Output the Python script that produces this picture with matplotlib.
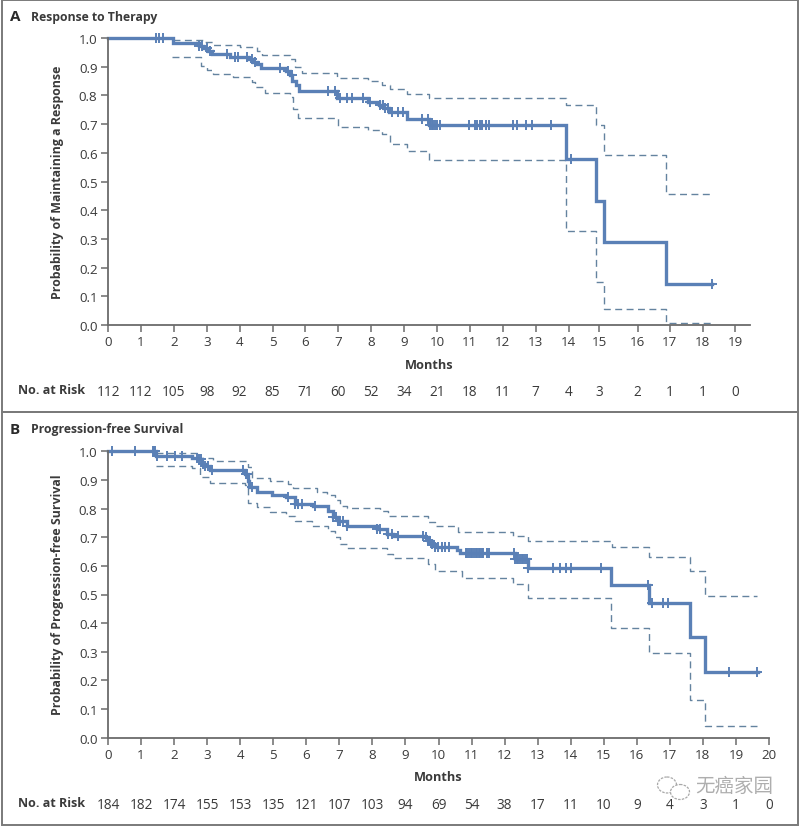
"""Kaplan-Meier curves for response to therapy and progression-free survival."""

from __future__ import annotations

import matplotlib

matplotlib.use("Agg")
import matplotlib.pyplot as plt
import numpy as np
from matplotlib.patches import Ellipse, Rectangle

plt.rcParams["font.family"] = ["Open Sans", "Noto Sans CJK SC", "DejaVu Sans"]

WIDTH, HEIGHT = 800, 828
BLUE = "#5a80b6"
DASH = "#64839f"
AXIS = "#6b6b6b"
TEXT = "#3a3a3a"

# Panel A
A_TIMES = [0, 1.98, 2.76, 2.89, 3.04, 3.16, 3.7, 4.25, 4.4, 4.52, 4.66, 5.41, 5.53, 5.6, 5.7, 5.82,
           6.95, 7.9, 8.24, 8.39, 8.55, 9.08, 9.76, 13.91, 14.83, 15.09, 16.95, 18.35]
A_SURV = [1.0, 0.982, 0.973, 0.964, 0.955, 0.945, 0.935, 0.927, 0.918, 0.909, 0.895, 0.885, 0.87, 0.85,
          0.835, 0.815, 0.79, 0.777, 0.767, 0.755, 0.742, 0.717, 0.697, 0.58, 0.433, 0.29, 0.143, 0.143]
A_UP_TIMES = [1.99, 2.9, 3.2, 4.01, 4.52, 4.67, 5.53, 5.68, 5.89, 6.97, 7.91, 8.32, 8.57, 9.08, 9.76,
              13.91, 14.83, 15.09, 16.95, 18.32]
A_UP = [0.994, 0.985, 0.976, 0.967, 0.953, 0.94, 0.927, 0.898, 0.878, 0.859, 0.851, 0.836, 0.822, 0.806,
        0.79, 0.766, 0.697, 0.592, 0.456, 0.456]
A_LOW_TIMES = [1.96, 2.83, 3.0, 3.2, 3.81, 4.37, 4.47, 4.77, 5.53, 5.63, 5.76, 7.0, 7.91, 8.32, 8.57,
               9.08, 9.76, 13.91, 14.83, 15.09, 16.95, 18.32]
A_LOW = [0.933, 0.904, 0.89, 0.876, 0.865, 0.848, 0.828, 0.81, 0.793, 0.752, 0.72, 0.691, 0.68, 0.665,
         0.632, 0.605, 0.576, 0.328, 0.15, 0.055, 0.007, 0.007]
A_CENSORED = [1.46, 1.55, 1.68, 2.77, 2.85, 3.0, 3.1, 3.61, 3.86, 3.96, 4.21, 4.37, 4.47, 5.23, 5.48, 5.58,
              6.7, 6.9, 7.05, 7.25, 7.41, 7.76, 7.96, 8.27, 8.37, 8.42, 8.52, 8.62, 8.82, 8.98, 9.53,
              9.74, 9.79, 9.84, 9.89, 9.94, 9.99, 10.09, 10.97, 11.15, 11.23, 11.31, 11.38, 11.49,
              11.59, 12.3, 12.42, 12.69, 12.89, 13.48, 14.06, 18.35]
A_TICKS = [0, 1, 2, 3, 4, 5, 6, 7, 8, 9, 10, 11, 12, 13, 14, 14.93, 16.1, 17.08, 18.07, 19.06]
A_TICK_LABELS = [str(month) for month in range(20)]
A_RISK = [112, 112, 105, 98, 92, 85, 71, 60, 52, 34, 21, 18, 11, 7, 4, 3, 2, 1, 1, 0]

# Panel B
B_TIMES = [0, 1.44, 2.53, 2.73, 2.83, 2.93, 3.09, 4.15, 4.25, 4.27, 4.5, 4.95, 5.4, 5.66, 6.21, 6.67, 6.82,
           6.97, 7.22, 8.13, 8.43, 8.63, 9.59, 9.69, 9.79, 9.89, 10.55, 10.65, 12.3, 12.72, 15.22, 16.38,
           17.61, 18.06, 19.68]
B_SURV = [1.0, 0.983, 0.977, 0.973, 0.956, 0.95, 0.935, 0.921, 0.898, 0.875, 0.859, 0.848, 0.84, 0.816,
          0.808, 0.793, 0.77, 0.758, 0.738, 0.729, 0.712, 0.706, 0.7, 0.688, 0.676, 0.665, 0.657, 0.644,
          0.624, 0.594, 0.533, 0.47, 0.352, 0.228, 0.228]
B_UP_TIMES = [1.44, 2.68, 3.19, 4.25, 4.35, 4.9, 5.46, 5.61, 6.31, 6.62, 6.87, 7.02, 7.22, 8.23, 8.48,
              9.69, 9.89, 10.6, 12.26, 12.72, 15.24, 16.38, 17.61, 18.06, 19.63]
B_UP = [0.995, 0.977, 0.965, 0.944, 0.907, 0.898, 0.886, 0.871, 0.857, 0.848, 0.831, 0.81, 0.801, 0.793,
        0.775, 0.754, 0.738, 0.719, 0.705, 0.688, 0.665, 0.63, 0.582, 0.496, 0.496]
B_LOW_TIMES = [1.44, 2.53, 2.78, 3.09, 4.15, 4.25, 4.5, 4.9, 5.4, 5.66, 6.16, 6.67, 6.87, 7.02, 7.22, 8.43,
               8.63, 9.69, 9.89, 10.7, 12.26, 12.72, 15.22, 16.38, 17.61, 18.06, 19.63]
B_LOW = [0.95, 0.941, 0.909, 0.889, 0.883, 0.819, 0.805, 0.787, 0.773, 0.755, 0.74, 0.723, 0.7, 0.677,
         0.662, 0.642, 0.629, 0.607, 0.581, 0.558, 0.537, 0.487, 0.382, 0.297, 0.13, 0.04, 0.04]
B_CENSORED = [0.13, 0.82, 1.35, 1.39, 1.43, 1.47, 1.78, 2.03, 2.23, 2.68, 2.75, 2.81, 2.88, 2.93, 3.04, 3.14,
              4.09, 4.18, 4.22, 4.35, 5.46, 5.66, 5.76, 5.86, 6.26, 6.82, 6.9, 6.97, 7.02, 7.12, 7.22,
              8.13, 8.23, 8.48, 8.58, 8.78, 9.54, 9.62, 9.69, 9.74, 9.81, 9.89, 9.99, 10.1, 10.2, 10.33,
              10.82, 10.87, 10.92, 10.97, 11.02, 11.07, 11.12, 11.17, 11.22, 11.27, 11.32, 11.35, 11.48,
              11.54, 12.27, 12.32, 12.37, 12.42, 12.47, 12.52, 12.57, 12.62, 12.69, 12.72, 13.47, 13.68,
              13.85, 14.01, 14.91, 16.35, 16.47, 16.78, 16.93, 18.79, 19.65]
B_TICKS = list(range(21))
B_TICK_LABELS = [str(month) for month in B_TICKS]
B_RISK = [184, 182, 174, 155, 153, 135, 121, 107, 103, 94, 69, 54, 38, 17, 11, 10, 9, 4, 3, 1, 0]

Y_TICKS = [0.0, 0.1, 0.2, 0.3, 0.4, 0.5, 0.6, 0.7, 0.8, 0.9, 1.0]


def _pixel_axes(figure, left, top, right, bottom):
    return figure.add_axes(
        [left / WIDTH, 1 - bottom / HEIGHT, (right - left) / WIDTH, (bottom - top) / HEIGHT]
    )


def _fig_text(figure, x, y, text, **kwargs):
    kwargs.setdefault("color", TEXT)
    kwargs.setdefault("va", "center")
    figure.text(x / WIDTH, 1 - y / HEIGHT, text, **kwargs)


def _draw_panel(axis, times, surv, up_times, up, low_times, low, censored, ticks, tick_labels, risk, xmax):
    axis.set_xlim(0, xmax)
    axis.set_ylim(0, 1)
    for xs, ys in ((up_times, up), (low_times, low)):
        axis.step(xs, ys, where="post", color=DASH, linewidth=1.0, dashes=(5, 3.2), clip_on=False)
    axis.step(times, surv, where="post", color=BLUE, linewidth=2.4, solid_joinstyle="miter", clip_on=False)

    index = np.searchsorted(times, censored, side="right") - 1
    axis.plot(
        censored,
        np.asarray(surv)[index],
        linestyle="none",
        marker="+",
        markersize=6.5,
        markeredgewidth=1.4,
        color=BLUE,
        clip_on=False,
    )

    for side in ("top", "right"):
        axis.spines[side].set_visible(False)
    for side in ("left", "bottom"):
        axis.spines[side].set_color(AXIS)
        axis.spines[side].set_linewidth(1.3)
    axis.set_xticks(ticks, tick_labels)
    axis.set_yticks(Y_TICKS, [f"{value:.1f}" for value in Y_TICKS])
    axis.tick_params(axis="both", color=AXIS, width=1.1, length=5, labelsize=9.6, labelcolor=TEXT, pad=2.5)
    axis.patch.set_alpha(0)

    # at-risk row sits under the same ticks as the month labels
    transform = axis.get_xaxis_transform()
    for tick, count in zip(ticks, risk):
        axis.text(tick, -0.232, str(count), transform=transform, ha="center", va="center",
                  fontsize=9.8, color=TEXT)


def _draw_watermark(figure):
    overlay = figure.add_axes([0, 0, 1, 1], facecolor="none")
    overlay.set_xlim(0, WIDTH)
    overlay.set_ylim(HEIGHT, 0)
    overlay.axis("off")
    overlay.add_patch(Ellipse((667, 786), 19, 16, fill=False, ec="#a8a8a8", lw=0.9, ls=(0, (2, 1))))
    overlay.add_patch(Ellipse((680, 793), 19, 15, fc="white", ec="#a8a8a8", lw=0.9, ls=(0, (2, 1))))
    return overlay


def main() -> None:
    figure = plt.figure(figsize=(WIDTH / 100, HEIGHT / 100), dpi=100, facecolor="white")

    for top, bottom in ((1, 413), (413, 826)):
        figure.add_artist(
            Rectangle((2 / WIDTH, 1 - bottom / HEIGHT), 796 / WIDTH, (bottom - top) / HEIGHT,
                      transform=figure.transFigure, fill=False, ec="#7a7a7a", lw=1.4)
        )

    axis_a = _pixel_axes(figure, 108, 39, 750, 326)
    _draw_panel(axis_a, A_TIMES, A_SURV, A_UP_TIMES, A_UP, A_LOW_TIMES, A_LOW, A_CENSORED,
                A_TICKS, A_TICK_LABELS, A_RISK, 642 / 32.9)

    axis_b = _pixel_axes(figure, 108, 452.3, 769, 738.7)
    _draw_panel(axis_b, B_TIMES, B_SURV, B_UP_TIMES, B_UP, B_LOW_TIMES, B_LOW, B_CENSORED,
                B_TICKS, B_TICK_LABELS, B_RISK, 20)

    for letter, title, y in (("A", "Response to Therapy", 17), ("B", "Progression-free Survival", 430)):
        _fig_text(figure, 10, y, letter, fontsize=11, fontweight="bold", color="#2a2a2a")
        _fig_text(figure, 31, y, title, fontsize=8.8, fontweight="bold")

    for label, y in (("Probability of Maintaining a Response", 182), ("Probability of Progression-free Survival", 595)):
        _fig_text(figure, 58, y, label, rotation=90, ha="center", fontsize=8.9, fontweight="bold")

    _fig_text(figure, 429, 366, "Months", ha="center", fontsize=9.2, fontweight="bold")
    _fig_text(figure, 438, 778, "Months", ha="center", fontsize=9.2, fontweight="bold")
    _fig_text(figure, 18, 391, "No. at Risk", fontsize=9, fontweight="bold")
    _fig_text(figure, 18, 804, "No. at Risk", fontsize=9, fontweight="bold")

    _draw_watermark(figure)
    _fig_text(figure, 695, 786, "无癌家园", fontsize=14, color="#9a9a9a", alpha=0.8,
              family=["Noto Sans CJK SC", "DejaVu Sans"], zorder=5)

    figure.savefig("out.png", dpi=100)


if __name__ == "__main__":
    main()
